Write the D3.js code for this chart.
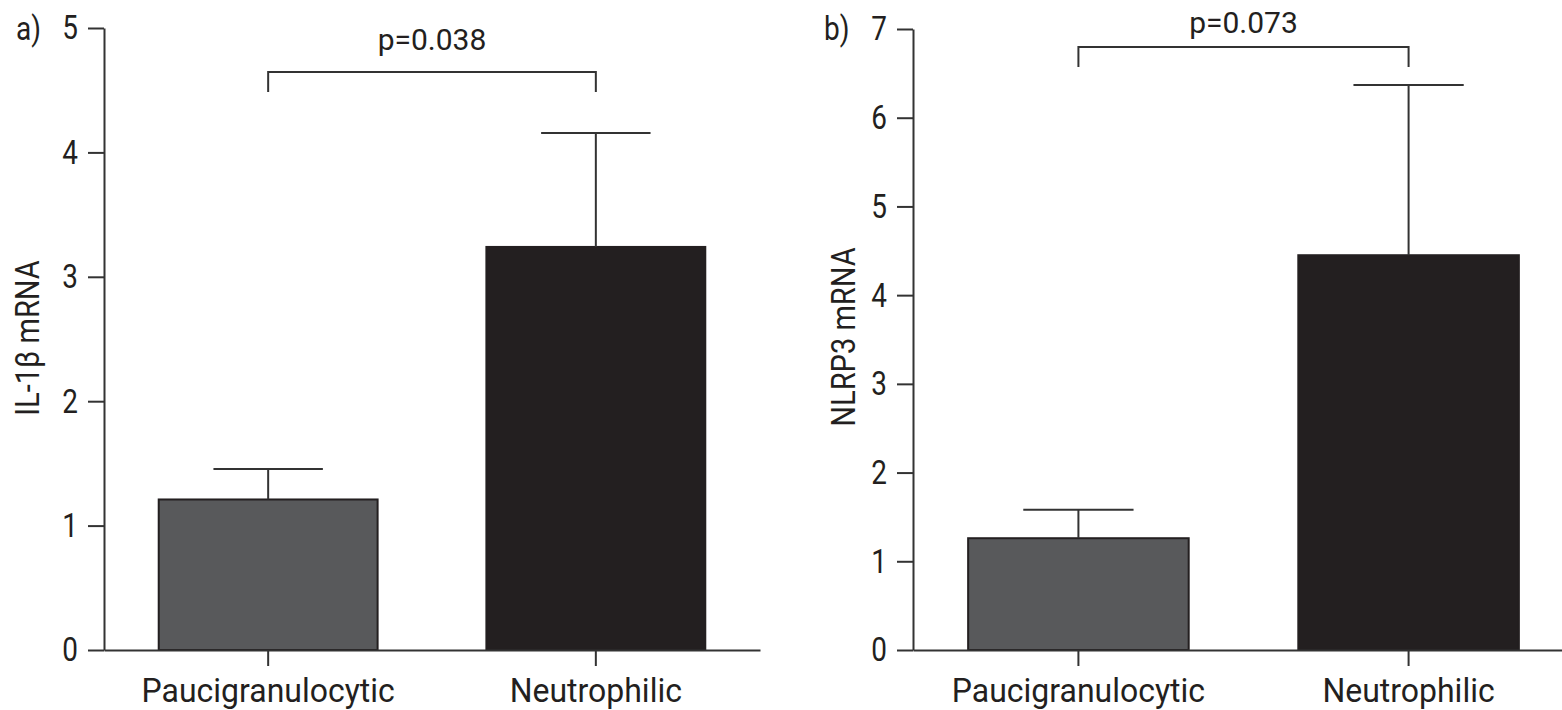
<!DOCTYPE html>
<html>
<head>
<meta charset="utf-8">
<script src="https://cdn.jsdelivr.net/npm/d3@7"></script>
<style>
  body { margin: 0; background: #fff; }
  svg { display: block; }
  text { font-family: Roboto, "Noto Sans", sans-serif; fill: #231f20; }
</style>
</head>
<body>
<svg width="1562" height="710"></svg>
<script>
const categories = ["Paucigranulocytic", "Neutrophilic"];

// panel a: IL-1β
const il1bMean = [1.21, 3.24];
const il1bErr = [0.245, 0.915];
const il1bTicks = [0, 1, 2, 3, 4, 5];

// panel b: NLRP3
const nlrpMean = [1.26, 4.45];
const nlrpErr = [0.32, 1.92];
const nlrpTicks = [0, 1, 2, 3, 4, 5, 6, 7];

const pValues = ["p=0.038", "p=0.073"];
const barColors = ["#58595b", "#231f20"];

const svg = d3.select("svg");
const ink = "#333";

// squeeze text horizontally, the original uses a condensed face
function condense(sel, k) {
  sel.each(function () {
    const w = this.getComputedTextLength();
    d3.select(this).attr("textLength", w * k).attr("lengthAdjust", "spacingAndGlyphs");
  });
}

function drawPanel(opt) {
  const g = svg.append("g");

  const x = d3.scaleBand()
    .domain(categories)
    .range([opt.left, opt.right])
    .paddingInner(0.332)
    .paddingOuter(0.167);

  const y = d3.scaleLinear()
    .domain([0, d3.max(opt.ticks)])
    .range([650, opt.top]);

  // bars
  g.selectAll(".bar")
    .data(opt.mean)
    .join("rect")
    .attr("x", (d, i) => x(categories[i]))
    .attr("y", d => y(d))
    .attr("width", x.bandwidth())
    .attr("height", d => y(0) - y(d))
    .attr("fill", (d, i) => barColors[i])
    .attr("stroke", "#231f20")
    .attr("stroke-width", 2);

  // error bars (upper only)
  const cap = x.bandwidth() / 2;
  opt.mean.forEach((m, i) => {
    const cx = x(categories[i]) + x.bandwidth() / 2;
    const top = y(m + opt.err[i]);
    g.append("line")
      .attr("x1", cx).attr("x2", cx)
      .attr("y1", y(m)).attr("y2", top)
      .attr("stroke", ink).attr("stroke-width", 2);
    g.append("line")
      .attr("x1", cx - cap / 2).attr("x2", cx + cap / 2)
      .attr("y1", top).attr("y2", top)
      .attr("stroke", ink).attr("stroke-width", 2);
  });

  // y axis
  const ya = g.append("g")
    .attr("transform", `translate(${opt.left},0)`)
    .call(d3.axisLeft(y).tickValues(opt.ticks).tickFormat(d3.format("d"))
      .tickSize(16).tickSizeOuter(0).tickPadding(10));
  ya.select(".domain").attr("stroke", ink).attr("stroke-width", 2);
  ya.selectAll(".tick line").attr("stroke", ink).attr("stroke-width", 2);
  ya.selectAll(".tick text")
    .attr("font-family", "Roboto, sans-serif")
    .attr("font-size", 34)
    .attr("fill", "#231f20")
    .call(condense, 0.82);

  // x axis
  const xa = g.append("g")
    .attr("transform", "translate(0,650)")
    .call(d3.axisBottom(x).tickSize(16).tickSizeOuter(0).tickPadding(12));
  xa.select(".domain").attr("stroke", ink).attr("stroke-width", 2);
  xa.selectAll(".tick line").attr("stroke", ink).attr("stroke-width", 2);
  xa.selectAll(".tick text")
    .attr("font-family", "Roboto, sans-serif")
    .attr("font-size", 34)
    .attr("fill", "#231f20")
    .call(condense, 0.94);

  // significance bracket
  const c0 = x(categories[0]) + x.bandwidth() / 2;
  const c1 = x(categories[1]) + x.bandwidth() / 2;
  g.append("path")
    .attr("d", `M${c0},${opt.bracketY + 20}V${opt.bracketY}H${c1}V${opt.bracketY + 20}`)
    .attr("fill", "none").attr("stroke", ink).attr("stroke-width", 2);
  g.append("text")
    .attr("x", (c0 + c1) / 2)
    .attr("y", opt.pY)
    .attr("text-anchor", "middle")
    .attr("font-size", 30)
    .text(opt.p);

  // y label
  g.append("text")
    .attr("transform", `translate(${opt.labelX},${opt.labelY}) rotate(-90)`)
    .attr("text-anchor", "middle")
    .attr("font-size", 33)
    .text(opt.label)
    .call(condense, 0.88);

  // panel letter
  g.append("text")
    .attr("x", opt.letterX)
    .attr("y", 40)
    .attr("font-size", 33)
    .text(opt.letter)
    .call(condense, 0.85);
}

drawPanel({
  left: 104, right: 760, top: 28,
  mean: il1bMean, err: il1bErr, ticks: il1bTicks,
  p: pValues[0], bracketY: 72, pY: 50,
  label: "IL-1β mRNA", labelX: 39, labelY: 338,
  letter: "a)", letterX: 16
});

drawPanel({
  left: 913, right: 1574, top: 29,
  mean: nlrpMean, err: nlrpErr, ticks: nlrpTicks,
  p: pValues[1], bracketY: 47, pY: 33,
  label: "NLRP3 mRNA", labelX: 855, labelY: 337,
  letter: "b)", letterX: 824
});
</script>
</body>
</html>
